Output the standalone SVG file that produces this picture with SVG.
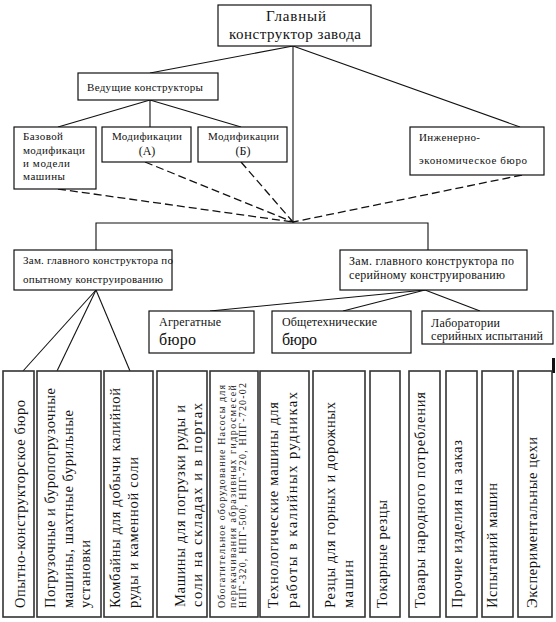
<svg xmlns="http://www.w3.org/2000/svg" width="556" height="622" viewBox="0 0 556 622">
<style>
.b{fill:#fff;stroke:#111;stroke-width:1.2}
.c{fill:#fff;stroke:#333;stroke-width:1.6}
.l{stroke:#111;stroke-width:1.1;fill:none}
.d{stroke:#111;stroke-width:1.3;fill:none;stroke-dasharray:8 4}
text{font-family:"Liberation Serif","DejaVu Serif","Times New Roman",serif;fill:#111}
.s11{font-size:11px}
.s12{font-size:12px}
.s15{font-size:15px}
.v{font-size:14.5px}
.v5{font-size:10px}
</style>
<rect width="556" height="622" fill="#fff"/>
<g id="connectors">
<line class="l" x1="293" y1="46" x2="150" y2="73"/>
<line class="l" x1="293" y1="46" x2="520" y2="127"/>
<line class="l" x1="293" y1="46" x2="293" y2="223"/>
<line class="l" x1="150" y1="100" x2="58" y2="127"/>
<line class="l" x1="150" y1="100" x2="150" y2="127"/>
<line class="l" x1="150" y1="100" x2="241" y2="127"/>
<line class="d" x1="58" y1="189" x2="293" y2="222"/>
<line class="d" x1="145" y1="162" x2="293" y2="222"/>
<line class="d" x1="241" y1="162" x2="293" y2="222"/>
<line class="d" x1="522" y1="175" x2="293" y2="222"/>
<polyline class="l" points="96,250 96,223 428,223 428,250"/>
<line class="l" x1="96" y1="290" x2="23" y2="371"/>
<line class="l" x1="96" y1="290" x2="57" y2="371"/>
<line class="l" x1="96" y1="290" x2="130" y2="371"/>
<line class="l" x1="425" y1="290" x2="210" y2="311"/>
<line class="l" x1="425" y1="290" x2="343" y2="311"/>
<line class="l" x1="425" y1="290" x2="480" y2="311"/>
</g>
<g id="chief"><rect class="b" x="218" y="5" width="153" height="41"/>
<text class="s15" x="266" y="21" textLength="60">Главный</text>
<text class="s15" x="229" y="39" textLength="132">конструктор завода</text></g>
<g id="lead"><rect class="b" x="78" y="73" width="140" height="27"/>
<text class="s11" x="87" y="91" textLength="116">Ведущие конструкторы</text></g>
<g id="base"><rect class="b" x="14" y="127" width="82" height="62"/>
<text class="s11" x="23" y="140" textLength="40">Базовой</text>
<text class="s11" x="23" y="154" textLength="62">модификаци</text>
<text class="s11" x="23" y="167" textLength="47">и модели</text>
<text class="s11" x="23" y="180" textLength="42">машины</text></g>
<g id="modA"><rect class="b" x="102" y="127" width="89" height="35"/>
<text class="s11" x="112" y="140" textLength="70">Модификации</text>
<text class="s12" x="147" y="155" text-anchor="middle">(А)</text></g>
<g id="modB"><rect class="b" x="198" y="127" width="89" height="35"/>
<text class="s11" x="208" y="140" textLength="71">Модификации</text>
<text class="s12" x="243" y="155" text-anchor="middle">(Б)</text></g>
<g id="eng"><rect class="b" x="410" y="127" width="134" height="48"/>
<text class="s11" x="419" y="141" textLength="61">Инженерно-</text>
<text class="s11" x="419" y="164" textLength="108">экономическое бюро</text></g>
<g id="depExp"><rect class="b" x="14" y="250" width="158" height="40"/>
<text class="s11" x="23" y="264" textLength="150">Зам. главного конструктора по</text>
<text class="s11" x="23" y="283" textLength="140">опытному конструированию</text></g>
<g id="depSer"><rect class="b" x="340" y="250" width="187" height="40"/>
<text class="s12" x="349" y="265" textLength="165">Зам. главного конструктора по</text>
<text class="s12" x="349" y="279" textLength="156">серийному конструированию</text></g>
<g id="agr"><rect class="b" x="149" y="311" width="105" height="42"/>
<text class="s12" x="159" y="326" textLength="62">Агрегатные</text>
<text x="159" y="345" font-size="16" textLength="37">бюро</text></g>
<g id="gen"><rect class="b" x="272" y="311" width="139" height="42"/>
<text class="s12" x="282" y="326" textLength="95">Общетехнические</text>
<text x="282" y="345" font-size="16" textLength="35">бюро</text></g>
<g id="lab"><rect class="b" x="422" y="311" width="131" height="33"/>
<text class="s12" x="431" y="327" textLength="69">Лаборатории</text>
<text class="s12" x="431" y="340" textLength="112">серийных испытаний</text></g>
<rect x="552" y="358" width="3" height="15" fill="#111"/>
<g id="c1"><rect class="c" x="3" y="371" width="31" height="246"/>
<text class="v" transform="translate(25,608) rotate(-90)" textLength="208">Опытно-конструкторское бюро</text></g>
<g id="c2"><rect class="c" x="37" y="371" width="64" height="246"/>
<text class="v" transform="translate(55,608) rotate(-90)" textLength="220">Погрузочные и буропогрузочные</text>
<text class="v" transform="translate(73,608) rotate(-90)" textLength="198">машины, шахтные бурильные</text>
<text class="v" transform="translate(90,608) rotate(-90)" textLength="68">установки</text></g>
<g id="c3"><rect class="c" x="104" y="371" width="49" height="246"/>
<text class="v" transform="translate(120,608) rotate(-90)" textLength="220">Комбайны для добычи калийной</text>
<text class="v" transform="translate(138,608) rotate(-90)" textLength="151">руды и каменной соли</text></g>
<g id="c4"><rect class="c" x="157" y="371" width="50" height="246"/>
<text class="v" transform="translate(185,607) rotate(-90)" textLength="202">Машины для погрузки руды и</text>
<text class="v" transform="translate(202,607) rotate(-90)" textLength="204">соли на складах и в портах</text></g>
<g id="c5"><rect class="c" x="210" y="371" width="48" height="246"/>
<text class="v5" transform="translate(225,608) rotate(-90)" textLength="223">Обогатительное оборудование Насосы для</text>
<text class="v5" transform="translate(235.5,608) rotate(-90)" textLength="223">перекачивания абразивных гидросмесей</text>
<text class="v5" transform="translate(246,608) rotate(-90)" textLength="225">НПГ-320, НПГ-500, НПГ-720, НПГ-720-02</text></g>
<g id="c6"><rect class="c" x="260" y="371" width="49" height="246"/>
<text class="v" transform="translate(278,608) rotate(-90)" textLength="206">Технологические машины для</text>
<text class="v" transform="translate(297,608) rotate(-90)" textLength="216">работы в калийных рудниках</text></g>
<g id="c7"><rect class="c" x="313" y="371" width="52" height="246"/>
<text class="v" transform="translate(335,608) rotate(-90)" textLength="206">Резцы для горных и дорожных</text>
<text class="v" transform="translate(353,608) rotate(-90)" textLength="48">машин</text></g>
<g id="c8"><rect class="c" x="370" y="371" width="30" height="246"/>
<text class="v" transform="translate(387,608) rotate(-90)" textLength="108">Токарные резцы</text></g>
<g id="c9"><rect class="c" x="409" y="371" width="31" height="246"/>
<text class="v" transform="translate(425,608) rotate(-90)" textLength="216">Товары народного потребления</text></g>
<g id="c10"><rect class="c" x="446" y="371" width="31" height="246"/>
<text class="v" transform="translate(462,608) rotate(-90)" textLength="168">Прочие изделия на заказ</text></g>
<g id="c11"><rect class="c" x="482" y="371" width="31" height="246"/>
<text class="v" transform="translate(497,608) rotate(-90)" textLength="125">Испытаний машин</text></g>
<g id="c12"><rect class="c" x="518" y="371" width="34" height="246"/>
<text class="v" transform="translate(537,608) rotate(-90)" textLength="171">Экспериментальные цехи</text></g>
</svg>
